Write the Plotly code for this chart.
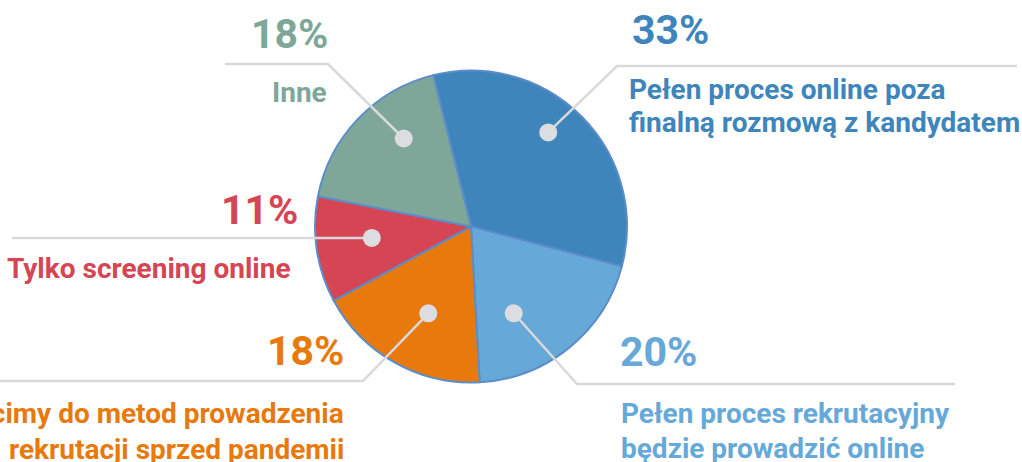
import math
import plotly.graph_objects as go

# ---------------- data ----------------
categories = [
    "Pełen proces online poza<br>finalną rozmową z kandydatem",
    "Pełen proces rekrutacyjny<br>będzie prowadzić online",
    "Wrócimy do metod prowadzenia<br>rekrutacji sprzed pandemii",
    "Tylko screening online",
    "Inne",
]
shares = [33, 20, 18, 11, 18]
pct_labels = [f"{v}%" for v in shares]

# ---------------- styles / layout ----------------
colors = ["#3e85bb", "#66a9d9", "#e8790c", "#d54554", "#7ea799"]
W, H = 1022, 462
CX, CY, R = 471, 226.5, 156
ROT = -14
FONT = "Roboto"
GRAY_LINE = "#d9d9dc"
GRAY_DOT = "#dcdde1"
PCT_SIZE = 41
CAT_SIZE = 28

# dot placement inside slices (angle offset from mid-angle, radius fraction)
dot_off = [-6, 13, -3, 2, 9]
dot_rf = [0.78, 0.62, 0.62, 0.64, 0.71]
# leader elbows (px) and end x of horizontal rule
elbow = [(617, 66), (577, 384), (363, 381), (None, None), (328, 64)]
rule_end = [1017, 955, -5, 12, 225]
# label anchors: (x, y of cap centre, anchor)
pct_pos = [(630, 30, "left"), (618, 352, "left"), (346, 351, "right"), (300, 210, "right"), (330, 34, "right")]
# category lines: x, anchor, list of line cap-centre y
cat_pos = [(627, "left", [90, 122]), (619, "left", [413, 448]), (346, "right", [413, 449]),
           (293, "right", [268]), (329, "right", [92])]


def px(x):
    return x / W


def py(y):
    return 1 - y / H


fig = go.Figure()
fig.add_trace(go.Pie(
    values=shares,
    labels=[c.replace("<br>", " ") for c in categories],
    sort=False,
    direction="clockwise",
    rotation=ROT,
    textinfo="none",
    hoverinfo="label+percent",
    marker=dict(colors=colors, line=dict(color="#5b8dc9", width=2)),
    domain=dict(x=[px(CX - R), px(CX + R)], y=[py(CY + R), py(CY - R)]),
    showlegend=False,
))

shapes = []
annotations = []
total = sum(shares)
cum = 0
for i, v in enumerate(shares):
    mid = ROT + 360 * (cum + v / 2) / total
    cum += v
    a = math.radians(mid + dot_off[i])
    r = dot_rf[i] * R
    dx, dy = CX + r * math.sin(a), CY - r * math.cos(a)
    ex, ey = elbow[i]
    if ex is None:
        ex, ey = dx, dy
    # leader line
    shapes.append(dict(type="path", xref="paper", yref="paper",
                       path=f"M{px(dx)},{py(dy)} L{px(ex)},{py(ey)} L{px(rule_end[i])},{py(ey)}",
                       line=dict(color=GRAY_LINE, width=2.5), layer="above"))
    # dot
    rd = 9
    shapes.append(dict(type="circle", xref="paper", yref="paper",
                       x0=px(dx - rd), x1=px(dx + rd), y0=py(dy + rd), y1=py(dy - rd),
                       fillcolor=GRAY_DOT, line=dict(width=0), layer="above"))
    x, y, anc = pct_pos[i]
    annotations.append(dict(text=f"<b>{pct_labels[i]}</b>", x=px(x), y=py(y), xref="paper", yref="paper",
                            xanchor=anc, yanchor="middle", showarrow=False,
                            font=dict(family=FONT, size=PCT_SIZE, color=colors[i])))
    x, anc, ys = cat_pos[i]
    for line, yl in zip(categories[i].split("<br>"), ys):
        annotations.append(dict(text=f"<b>{line}</b>", x=px(x), y=py(yl), xref="paper", yref="paper",
                                xanchor=anc, yanchor="middle", align=anc, showarrow=False,
                                font=dict(family=FONT, size=CAT_SIZE, color=colors[i])))

fig.update_layout(
    width=W, height=H,
    margin=dict(l=0, r=0, t=0, b=0),
    paper_bgcolor="white", plot_bgcolor="white",
    shapes=shapes, annotations=annotations,
)
fig.write_html("out.html", post_script="document.body.style.margin='0';",
               config={"displayModeBar": False})
